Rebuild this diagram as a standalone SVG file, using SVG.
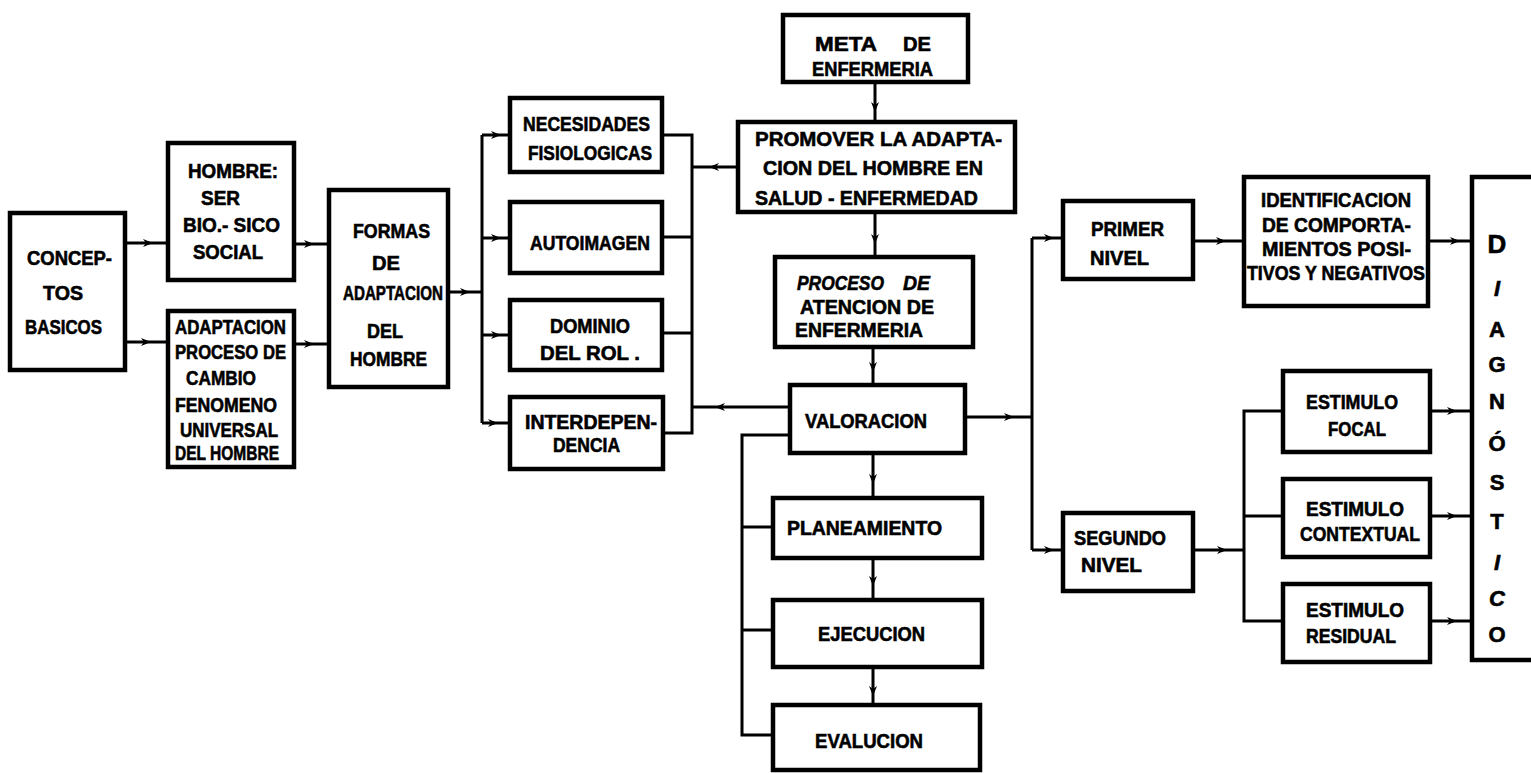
<svg xmlns="http://www.w3.org/2000/svg" width="1531" height="773" viewBox="0 0 1531 773">
<defs>
<style>
.box{fill:#fff;stroke:#000;stroke-width:4.5;stroke-linejoin:miter}
.ln{fill:none;stroke:#000;stroke-width:3}
text{font-family:"Liberation Sans",Arial,sans-serif;font-weight:bold;font-size:20px;fill:#000;stroke:#000;stroke-width:0.6}
.m{text-anchor:middle}
</style>
<marker id="ah" viewBox="0 0 10 10" refX="9" refY="5" markerWidth="10" markerHeight="10" markerUnits="userSpaceOnUse" orient="auto">
<path d="M0,1 L10,5 L0,9 L3,5 z" fill="#000"/>
</marker>
</defs>
<rect width="1531" height="773" fill="#fff"/>

<g id="connectors">
<path class="ln" marker-mid="url(#ah)" d="M125,243 L152,243 L168,243"/>
<path class="ln" marker-mid="url(#ah)" d="M125,342 L150,342 L168,342"/>
<path class="ln" marker-mid="url(#ah)" d="M294,244 L313,244 L329,244"/>
<path class="ln" marker-mid="url(#ah)" d="M294,344 L313,344 L329,344"/>
<path class="ln" marker-mid="url(#ah)" d="M448,292 L469,292 L482,292"/>
<path class="ln" d="M482,135 L482,423"/>
<path class="ln" marker-mid="url(#ah)" d="M482,135 L500,135 L510,135"/>
<path class="ln" marker-mid="url(#ah)" d="M482,238 L500,238 L510,238"/>
<path class="ln" marker-mid="url(#ah)" d="M482,335 L500,335 L510,335"/>
<path class="ln" marker-mid="url(#ah)" d="M482,423 L497,423 L510,423"/>
<path class="ln" d="M662,135 L692,135 L692,433 L663,433"/>
<path class="ln" d="M662,237 L692,237"/>
<path class="ln" d="M662,333 L692,333"/>
<path class="ln" marker-mid="url(#ah)" d="M738,167 L710,167 L692,167"/>
<path class="ln" marker-mid="url(#ah)" d="M790,407 L716,407 L692,407"/>
<path class="ln" marker-mid="url(#ah)" d="M875,82 L875,111 L875,122"/>
<path class="ln" marker-mid="url(#ah)" d="M875,212 L875,243 L875,257"/>
<path class="ln" marker-mid="url(#ah)" d="M873,347 L873,371 L873,385"/>
<path class="ln" marker-mid="url(#ah)" d="M873,453 L873,483 L873,498"/>
<path class="ln" marker-mid="url(#ah)" d="M873,558 L873,585 L873,600"/>
<path class="ln" marker-mid="url(#ah)" d="M873,667 L873,695 L873,705"/>
<path class="ln" d="M790,435 L742,435 L742,735 L773,735"/>
<path class="ln" d="M742,527 L773,527"/>
<path class="ln" d="M742,630 L773,630"/>
<path class="ln" marker-mid="url(#ah)" d="M965,417 L1013,417 L1032,417"/>
<path class="ln" d="M1032,238 L1032,550"/>
<path class="ln" marker-mid="url(#ah)" d="M1032,238 L1053,238 L1063,238"/>
<path class="ln" marker-mid="url(#ah)" d="M1032,550 L1053,550 L1063,550"/>
<path class="ln" marker-mid="url(#ah)" d="M1193,241 L1225,241 L1244,241"/>
<path class="ln" marker-mid="url(#ah)" d="M1428,241 L1459,241 L1472,241"/>
<path class="ln" marker-mid="url(#ah)" d="M1193,550 L1226,550 L1244,550"/>
<path class="ln" d="M1283,411 L1244,411 L1244,621 L1283,621"/>
<path class="ln" d="M1244,516 L1283,516"/>
<path class="ln" marker-mid="url(#ah)" d="M1430,411 L1456,411 L1472,411"/>
<path class="ln" marker-mid="url(#ah)" d="M1430,516 L1456,516 L1472,516"/>
<path class="ln" marker-mid="url(#ah)" d="M1430,621 L1456,621 L1472,621"/>
</g>

<g id="conceptos">
<rect class="box" x="10" y="213" width="115" height="157"/>
<text x="27" y="265" textLength="85" lengthAdjust="spacingAndGlyphs">CONCEP-</text>
<text x="43" y="300" textLength="40" lengthAdjust="spacingAndGlyphs">TOS</text>
<text x="25" y="334" textLength="77" lengthAdjust="spacingAndGlyphs">BASICOS</text>
</g>

<g id="hombre">
<rect class="box" x="168" y="143" width="126" height="137"/>
<text x="188" y="178" textLength="90" lengthAdjust="spacingAndGlyphs">HOMBRE:</text>
<text x="201" y="205" textLength="39" lengthAdjust="spacingAndGlyphs">SER</text>
<text x="183" y="232" textLength="97" lengthAdjust="spacingAndGlyphs">BIO.- SICO</text>
<text x="193" y="259" textLength="70" lengthAdjust="spacingAndGlyphs">SOCIAL</text>
</g>

<g id="adaptacion">
<rect class="box" x="168" y="311" width="126" height="156"/>
<text x="175" y="334" textLength="111" lengthAdjust="spacingAndGlyphs">ADAPTACION</text>
<text x="175" y="359" textLength="111" lengthAdjust="spacingAndGlyphs">PROCESO DE</text>
<text x="186" y="385" textLength="70" lengthAdjust="spacingAndGlyphs">CAMBIO</text>
<text x="175" y="412" textLength="102" lengthAdjust="spacingAndGlyphs">FENOMENO</text>
<text x="180" y="437" textLength="98" lengthAdjust="spacingAndGlyphs">UNIVERSAL</text>
<text x="175" y="460" textLength="104" lengthAdjust="spacingAndGlyphs">DEL HOMBRE</text>
</g>

<g id="formas">
<rect class="box" x="329" y="190" width="119" height="197"/>
<text x="353" y="238" textLength="77" lengthAdjust="spacingAndGlyphs">FORMAS</text>
<text x="372" y="270" textLength="28" lengthAdjust="spacingAndGlyphs">DE</text>
<text x="343" y="300" textLength="100" lengthAdjust="spacingAndGlyphs">ADAPTACION</text>
<text x="367" y="338" textLength="36" lengthAdjust="spacingAndGlyphs">DEL</text>
<text x="350" y="366" textLength="77" lengthAdjust="spacingAndGlyphs">HOMBRE</text>
</g>

<g id="necesidades">
<rect class="box" x="510" y="98" width="152" height="74"/>
<text x="523" y="131" textLength="127" lengthAdjust="spacingAndGlyphs">NECESIDADES</text>
<text x="528" y="160" textLength="124" lengthAdjust="spacingAndGlyphs">FISIOLOGICAS</text>
</g>

<g id="autoimagen">
<rect class="box" x="510" y="202" width="152" height="71"/>
<text x="530" y="250" textLength="120" lengthAdjust="spacingAndGlyphs">AUTOIMAGEN</text>
</g>

<g id="dominio">
<rect class="box" x="510" y="300" width="152" height="70"/>
<text x="550" y="333" textLength="80" lengthAdjust="spacingAndGlyphs">DOMINIO</text>
<text x="540" y="360" textLength="100" lengthAdjust="spacingAndGlyphs">DEL ROL .</text>
</g>

<g id="interdependencia">
<rect class="box" x="510" y="397" width="153" height="72"/>
<text x="525" y="429" textLength="132" lengthAdjust="spacingAndGlyphs">INTERDEPEN-</text>
<text x="553" y="452" textLength="67" lengthAdjust="spacingAndGlyphs">DENCIA</text>
</g>

<g id="meta">
<rect class="box" x="783" y="15" width="185" height="67"/>
<text x="815" y="51" textLength="62" lengthAdjust="spacingAndGlyphs">META</text>
<text x="903" y="51" textLength="28" lengthAdjust="spacingAndGlyphs">DE</text>
<text x="812" y="76" textLength="121" lengthAdjust="spacingAndGlyphs">ENFERMERIA</text>
</g>

<g id="promover">
<rect class="box" x="738" y="122" width="277" height="90"/>
<text x="755" y="146" style="font-size:21px" textLength="247" lengthAdjust="spacingAndGlyphs">PROMOVER LA ADAPTA-</text>
<text x="763" y="175" style="font-size:21px" textLength="220" lengthAdjust="spacingAndGlyphs">CION DEL HOMBRE EN</text>
<text x="755" y="205" style="font-size:21px" textLength="223" lengthAdjust="spacingAndGlyphs">SALUD - ENFERMEDAD</text>
</g>

<g id="proceso">
<rect class="box" x="775" y="257" width="198" height="90"/>
<text x="797" y="290" style="font-size:21px;font-style:italic" textLength="87" lengthAdjust="spacingAndGlyphs">PROCESO</text>
<text x="903" y="290" style="font-size:21px;font-style:italic" textLength="27" lengthAdjust="spacingAndGlyphs">DE</text>
<text x="800" y="314" style="font-size:21px" textLength="134" lengthAdjust="spacingAndGlyphs">ATENCION DE</text>
<text x="795" y="337" style="font-size:21px" textLength="128" lengthAdjust="spacingAndGlyphs">ENFERMERIA</text>
</g>

<g id="valoracion">
<rect class="box" x="790" y="385" width="175" height="68"/>
<text x="805" y="428" textLength="122" lengthAdjust="spacingAndGlyphs">VALORACION</text>
</g>

<g id="planeamiento">
<rect class="box" x="773" y="498" width="209" height="60"/>
<text x="787" y="535" textLength="155" lengthAdjust="spacingAndGlyphs">PLANEAMIENTO</text>
</g>

<g id="ejecucion">
<rect class="box" x="773" y="600" width="209" height="67"/>
<text x="818" y="641" textLength="107" lengthAdjust="spacingAndGlyphs">EJECUCION</text>
</g>

<g id="evalucion">
<rect class="box" x="773" y="705" width="207" height="65"/>
<text x="815" y="748" textLength="108" lengthAdjust="spacingAndGlyphs">EVALUCION</text>
</g>

<g id="primer-nivel">
<rect class="box" x="1063" y="201" width="130" height="78"/>
<text x="1091" y="236" textLength="73" lengthAdjust="spacingAndGlyphs">PRIMER</text>
<text x="1090" y="265" textLength="59" lengthAdjust="spacingAndGlyphs">NIVEL</text>
</g>

<g id="identificacion">
<rect class="box" x="1244" y="177" width="184" height="129"/>
<text x="1261" y="207" textLength="150" lengthAdjust="spacingAndGlyphs">IDENTIFICACION</text>
<text x="1262" y="232" textLength="149" lengthAdjust="spacingAndGlyphs">DE COMPORTA-</text>
<text x="1262" y="256" textLength="149" lengthAdjust="spacingAndGlyphs">MIENTOS POSI-</text>
<text x="1247" y="280" textLength="178" lengthAdjust="spacingAndGlyphs">TIVOS Y NEGATIVOS</text>
</g>

<g id="segundo-nivel">
<rect class="box" x="1063" y="513" width="130" height="78"/>
<text x="1074" y="545" textLength="92" lengthAdjust="spacingAndGlyphs">SEGUNDO</text>
<text x="1081" y="572" textLength="61" lengthAdjust="spacingAndGlyphs">NIVEL</text>
</g>

<g id="estimulo-focal">
<rect class="box" x="1283" y="371" width="147" height="81"/>
<text x="1306" y="409" textLength="92" lengthAdjust="spacingAndGlyphs">ESTIMULO</text>
<text x="1328" y="436" textLength="58" lengthAdjust="spacingAndGlyphs">FOCAL</text>
</g>

<g id="estimulo-contextual">
<rect class="box" x="1283" y="479" width="147" height="78"/>
<text x="1306" y="516" textLength="98" lengthAdjust="spacingAndGlyphs">ESTIMULO</text>
<text x="1300" y="541" textLength="120" lengthAdjust="spacingAndGlyphs">CONTEXTUAL</text>
</g>

<g id="estimulo-residual">
<rect class="box" x="1283" y="584" width="147" height="78"/>
<text x="1306" y="617" textLength="98" lengthAdjust="spacingAndGlyphs">ESTIMULO</text>
<text x="1306" y="643" textLength="90" lengthAdjust="spacingAndGlyphs">RESIDUAL</text>
</g>

<g id="diagnostico">
<rect class="box" x="1472" y="177" width="80" height="483"/>
<text class="m" x="1497" y="253" style="font-size:26px">D</text>
<text class="m" x="1497" y="296" style="font-size:22px;font-style:italic">I</text>
<text class="m" x="1497" y="337" style="font-size:22px">A</text>
<text class="m" x="1497" y="372" style="font-size:22px">G</text>
<text class="m" x="1497" y="409" style="font-size:22px">N</text>
<text class="m" x="1497" y="451" style="font-size:22px">Ó</text>
<text class="m" x="1497" y="490" style="font-size:22px">S</text>
<text class="m" x="1497" y="529" style="font-size:22px">T</text>
<text class="m" x="1497" y="570" style="font-size:22px;font-style:italic">I</text>
<text class="m" x="1497" y="606" style="font-size:22px;font-style:italic">C</text>
<text class="m" x="1497" y="642" style="font-size:22px">O</text>
</g>
</svg>
